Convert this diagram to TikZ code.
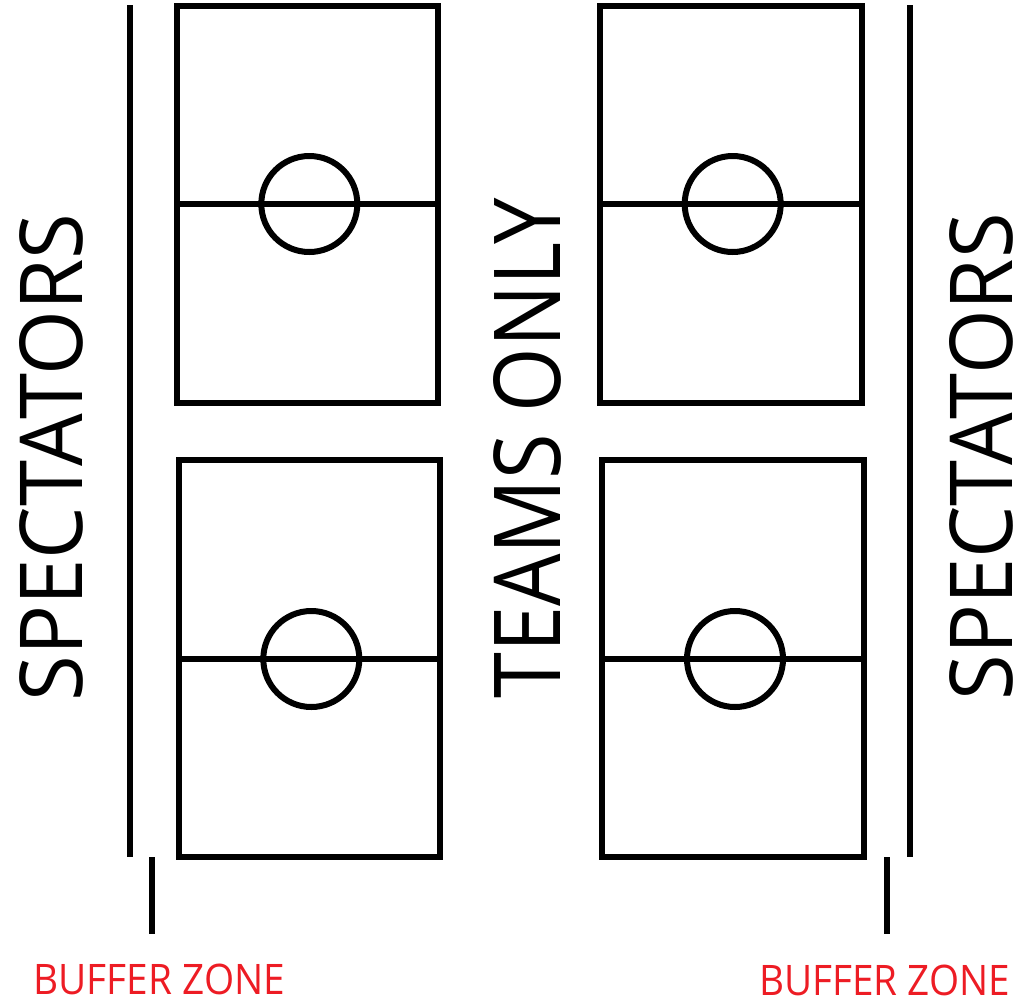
\documentclass[tikz,border=0pt]{standalone}
\usepackage{fontspec}
\setmainfont{Open Sans}
\usepackage{graphicx}
\definecolor{bufred}{RGB}{237,28,36}
\tikzset{
  fieldline/.style={line width=6pt, line join=miter, line cap=butt},
  barline/.style={line width=6pt, line cap=butt},
  lbl/.style={inner sep=0pt, outer sep=0pt},
}
\begin{document}
\begin{tikzpicture}[x=1pt,y=-1pt]
\useasboundingbox (0,0) rectangle (1023,1002);
% fields
\draw[fieldline] (177,5.7) rectangle (438,403);
\draw[fieldline] (177,204) -- (438,204);
\draw[fieldline] (309.3,204) circle[radius=48];
\draw[fieldline] (600.3,5.7) rectangle (862,403);
\draw[fieldline] (600.3,204) -- (862,204);
\draw[fieldline] (732.7,204) circle[radius=48];
\draw[fieldline] (179,460.3) rectangle (440.3,857);
\draw[fieldline] (179,659) -- (440.3,659);
\draw[fieldline] (311.3,659) circle[radius=48];
\draw[fieldline] (602.3,460.3) rectangle (864,857);
\draw[fieldline] (602.3,659) -- (864,659);
\draw[fieldline] (735,659) circle[radius=48];
% barriers
\draw[barline] (130,5.3) -- (130,856.7);
\draw[barline] (910,5.3) -- (910,856.7);
\draw[barline] (152,857.3) -- (152,934.3);
\draw[barline] (886.7,857.3) -- (886.7,934.3);
% labels
\node[lbl, rotate=90] (specL) at (51.2,457.5) {\resizebox{488pt}{63pt}{SPECTATORS}};
\node[lbl, rotate=90] (specR) at (981.2,456.7) {\resizebox{487pt}{63pt}{SPECTATORS}};
\node[lbl, rotate=90] (teams) at (527.5,448.3) {\resizebox{500pt}{67pt}{TEAMS ONLY}};
\node[lbl, text=bufred] (bufL) at (159.2,979.7) {\resizebox{251.7pt}{30.5pt}{BUFFER ZONE}};
\node[lbl, text=bufred] (bufR) at (884.5,980.3) {\resizebox{251pt}{30.5pt}{BUFFER ZONE}};
\end{tikzpicture}
\end{document}
